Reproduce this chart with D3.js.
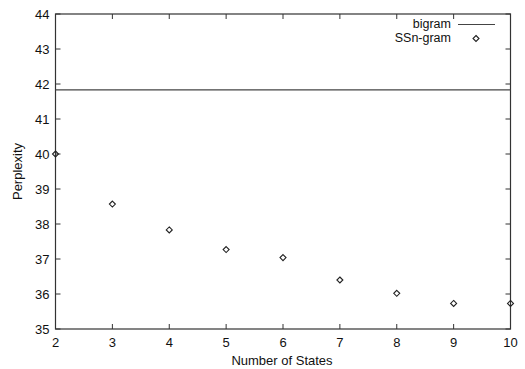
<!DOCTYPE html>
<html><head><meta charset="utf-8">
<script src="https://cdn.jsdelivr.net/npm/d3@7"></script>
<style>body{margin:0;background:#fff}svg{display:block}text{font-family:"Liberation Sans",Arial,sans-serif;fill:#111}</style>
</head><body><svg id="c" width="525" height="369"></svg>
<script>
const states = [2,3,4,5,6,7,8,9,10];
const ssngram = [40.0,38.57,37.83,37.27,37.04,36.4,36.02,35.73,35.73];
const bigram = 41.83;
const xTicks = [2,3,4,5,6,7,8,9,10];
const yTicks = [35,36,37,38,39,40,41,42,43,44];

const svg = d3.select("#c");
const L=55.5, R=510.5, T=14, B=329;
const x = d3.scaleLinear().domain([2,10]).range([L,R]);
const y = d3.scaleLinear().domain([35,44]).range([B,T]);
const stroke="#333";

// ticks inward
const tl=5;
const g=svg.append("g").attr("stroke",stroke).attr("stroke-width",1);
xTicks.forEach(v=>{
  g.append("line").attr("x1",x(v)).attr("x2",x(v)).attr("y1",B).attr("y2",B-tl);
  g.append("line").attr("x1",x(v)).attr("x2",x(v)).attr("y1",T).attr("y2",T+tl);
});
yTicks.forEach(v=>{
  g.append("line").attr("x1",L).attr("x2",L+tl).attr("y1",y(v)).attr("y2",y(v));
  g.append("line").attr("x1",R).attr("x2",R-tl).attr("y1",y(v)).attr("y2",y(v));
});
svg.append("rect").attr("x",L).attr("y",T).attr("width",R-L).attr("height",B-T)
  .attr("fill","none").attr("stroke",stroke).attr("stroke-width",1.2);

// tick labels
svg.selectAll(".xl").data(xTicks).enter().append("text")
  .attr("x",d=>x(d)).attr("y",B+17.5).attr("text-anchor","middle").attr("font-size",13).text(d=>d);
svg.selectAll(".yl").data(yTicks).enter().append("text")
  .attr("x",L-6).attr("y",d=>y(d)+4.5).attr("text-anchor","end").attr("font-size",13).text(d=>d);

// axis titles
svg.append("text").attr("x",(L+R)/2 - 1).attr("y",364.5).attr("text-anchor","middle").attr("font-size",13).text("Number of States");
svg.append("text").attr("transform",`translate(22,${(T+B)/2}) rotate(-90)`).attr("text-anchor","middle").attr("font-size",13).text("Perplexity");

// bigram line
svg.append("line").attr("x1",L).attr("x2",R).attr("y1",y(bigram)).attr("y2",y(bigram))
  .attr("stroke","#444").attr("stroke-width",1.2);

// points
const ds=3;
const diamond = (cx,cy)=>`M${cx},${cy-ds}L${cx+ds},${cy}L${cx},${cy+ds}L${cx-ds},${cy}Z`;
svg.selectAll(".pt").data(states).enter().append("path")
  .attr("d",(d,i)=>diamond(x(d),y(ssngram[i])))
  .attr("fill","none").attr("stroke","#222").attr("stroke-width",1.1);

// legend
svg.append("text").attr("x",451).attr("y",27.5).attr("text-anchor","end").attr("font-size",12.5).text("bigram");
svg.append("line").attr("x1",458).attr("x2",495).attr("y1",24.5).attr("y2",24.5).attr("stroke","#444").attr("stroke-width",1.2);
svg.append("text").attr("x",451).attr("y",42).attr("text-anchor","end").attr("font-size",12.5).text("SSn-gram");
svg.append("path").attr("d",diamond(476,38.5)).attr("fill","none").attr("stroke","#222").attr("stroke-width",1.1);
</script></body></html>
